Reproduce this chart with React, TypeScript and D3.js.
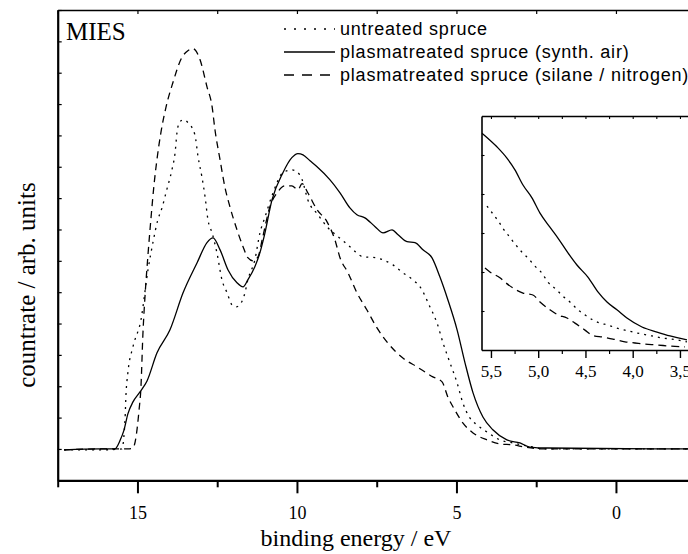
import React, { useEffect, useRef } from "react";
import * as d3 from "d3";

// MIES spectra: [binding energy / eV, countrate / arb. units]
const untreated: [number, number][] = [
  [17.3, -0.3], [16.2, -0.3], [15.49, 0], [15.39, 9.3], [15.36, 17.2], [15.3, 24.3],
  [15.14, 32.6], [14.89, 41.2], [14.67, 57.1], [14.51, 66.1], [14.36, 73.1], [14.23, 76.9],
  [14.08, 82.7], [13.92, 89.0], [13.82, 94.5], [13.76, 100.9], [13.67, 104.4], [13.54, 105.0],
  [13.42, 104.1], [13.2, 100.2], [13.1, 93.2], [12.98, 86.8], [12.88, 80.4], [12.79, 73.1],
  [12.66, 68.9], [12.51, 62.6], [12.35, 53.9], [12.19, 49.8], [12.04, 46.0], [11.91, 45.3],
  [11.79, 46.0], [11.63, 49.8], [11.54, 53.9], [11.32, 60.3], [11.16, 68.9], [11.0, 74.0],
  [10.75, 81.7], [10.44, 88.1], [10.16, 89.0], [10.0, 88.4], [9.84, 85.9], [9.66, 79.5],
  [9.34, 74.7], [9.06, 70.9], [8.59, 66.7], [8.34, 64.5], [7.93, 61.3], [7.55, 61.0],
  [7.3, 60.3], [6.99, 58.7], [6.68, 56.2], [6.36, 53.9], [6.14, 51.7], [5.83, 45.3],
  [5.61, 40.2], [5.42, 33.8], [5.2, 27.4], [4.98, 21.1], [4.8, 14.7], [4.58, 9.9],
  [4.36, 7.7], [4.04, 5.4], [3.64, 2.9], [3.23, 1.9], [2.79, 1.0], [2.23, 0], [-2.3, 0],
];

const synthAir: [number, number][] = [
  [17.3, -0.3], [16.18, 0], [15.71, 0], [15.55, 2.6], [15.42, 6.1], [15.3, 11.2],
  [15.14, 15.0], [14.92, 18.2], [14.7, 21.7], [14.39, 30.6], [13.98, 38.0], [13.57, 49.8],
  [13.13, 59.4], [12.82, 65.8], [12.63, 67.3], [12.41, 63.5], [12.16, 57.1], [11.88, 53.0],
  [11.69, 51.7], [11.54, 53.9], [11.32, 58.1], [11.16, 62.6], [11.03, 67.7], [10.78, 79.5],
  [10.44, 88.1], [10.16, 92.9], [9.97, 94.2], [9.81, 93.8], [9.59, 91.9], [9.37, 90.0],
  [8.97, 85.9], [8.65, 81.7], [8.34, 76.9], [8.12, 74.7], [7.87, 73.7], [7.55, 70.9],
  [7.3, 68.9], [7.02, 69.9], [6.83, 68.3], [6.55, 66.1], [6.3, 65.8], [6.05, 63.5],
  [5.77, 61.0], [5.52, 54.9], [5.27, 47.6], [4.98, 38.0], [4.73, 27.4], [4.48, 17.9],
  [4.17, 10.2], [3.86, 6.1], [3.42, 2.9], [3.01, 1.9], [2.7, 0.6], [2.16, 0.3], [-2.3, 0],
];

const silaneN2: [number, number][] = [
  [17.3, -0.3], [16.18, 0], [15.3, 0], [15.14, 0.3], [15.05, 3.5], [14.95, 12.4],
  [14.89, 19.8], [14.83, 36.4], [14.76, 49.2], [14.67, 61.9], [14.58, 73.1], [14.48, 84.3],
  [14.39, 92.2], [14.26, 101.2], [14.11, 108.8], [13.89, 116.8], [13.61, 124.8], [13.42, 127.0],
  [13.26, 127.7], [13.04, 124.2], [12.82, 115.5], [12.66, 109.2], [12.57, 101.8], [12.41, 92.2],
  [12.26, 83.6], [12.1, 77.2], [11.88, 69.9], [11.69, 64.5], [11.54, 61.0], [11.38, 60.0],
  [11.22, 61.3], [11.07, 67.7], [10.85, 77.2], [10.6, 82.0], [10.38, 83.9], [10.16, 83.9],
  [9.97, 82.7], [9.84, 84.6], [9.66, 81.7], [9.37, 76.3], [9.06, 72.5], [8.81, 66.7],
  [8.65, 61.0], [8.4, 56.2], [8.12, 49.8], [7.81, 44.4], [7.49, 38.6], [7.15, 33.8],
  [6.68, 29.0], [6.24, 26.2], [5.74, 23.0], [5.45, 21.4], [5.27, 16.6], [5.05, 12.4],
  [4.8, 8.3], [4.48, 5.1], [4.04, 2.9], [3.64, 1.6], [3.23, 1.3], [2.85, 0.6], [2.23, 0], [-2.3, 0],
];

// inset: close-up of the low binding energy edge
const insetUntreated: [number, number][] = [
  [5.542, 3.69], [5.479, 3.49], [5.415, 3.28], [5.362, 3.08], [5.31, 2.92], [5.246, 2.72],
  [5.172, 2.51], [5.098, 2.33], [5.034, 2.15], [4.96, 1.97], [4.897, 1.74], [4.812, 1.56],
  [4.738, 1.38], [4.664, 1.23], [4.579, 1.03], [4.505, 0.9], [4.421, 0.77], [4.347, 0.69],
  [4.262, 0.64], [4.167, 0.56], [4.082, 0.51], [3.997, 0.46], [3.902, 0.41], [3.796, 0.36],
  [3.69, 0.31], [3.585, 0.28], [3.426, 0.21],
];

const insetSynthAir: [number, number][] = [
  [5.595, 5.56], [5.437, 5.21], [5.331, 4.92], [5.246, 4.62], [5.161, 4.23], [5.066, 3.9],
  [4.981, 3.51], [4.876, 3.15], [4.791, 2.87], [4.685, 2.49], [4.59, 2.18], [4.474, 1.87],
  [4.368, 1.49], [4.272, 1.23], [4.167, 1.03], [4.061, 0.82], [3.902, 0.59], [3.743, 0.46],
  [3.606, 0.36], [3.426, 0.26],
];

const insetSilaneN2: [number, number][] = [
  [5.563, 2.1], [5.511, 2.0], [5.405, 1.85], [5.352, 1.74], [5.267, 1.59], [5.161, 1.46],
  [5.056, 1.41], [4.981, 1.23], [4.876, 1.03], [4.791, 0.9], [4.696, 0.82], [4.611, 0.69],
  [4.505, 0.51], [4.431, 0.38], [4.315, 0.33], [4.209, 0.28], [4.082, 0.21], [3.976, 0.18],
  [3.87, 0.15], [3.743, 0.13], [3.606, 0.1], [3.447, 0.08],
];

const seriesNames = [
  "untreated spruce",
  "plasmatreated spruce (synth. air)",
  "plasmatreated spruce (silane / nitrogen)",
];

const xMajorTicks = [15, 10, 5, 0];
const xMinorTicks = [17.5, 12.5, 7.5, 2.5, -2.5];
const yTicks = [-10, 0, 10, 20, 30, 40, 50, 60, 70, 80, 90, 100, 110, 120, 130, 140];
const insetMajorTicks = [5.5, 5.0, 4.5, 4.0, 3.5];
const insetMinorTicks = [5.25, 4.75, 4.25, 3.75];
const insetYTicks = [1, 2, 3, 4, 5];

const serif = "'Liberation Serif', 'Times New Roman', serif";
const sans = "'Liberation Sans', Arial, sans-serif";

function App() {
  const ref = useRef<SVGSVGElement>(null);

  useEffect(() => {
    drawChart(ref.current);
  }, []);

  return (
    <svg
      ref={ref}
      width={688}
      height={554}
      style={{ position: "absolute", left: 0, top: 0, background: "#fff" }}
    />
  );
}

function drawChart(el: SVGSVGElement | null) {
  if (!el) return;
  const svg = d3.select(el);
  svg.selectAll("*").remove();

  const frame = { left: 57.7, top: 10, bottom: 480.3, right: 695.7 };

  const x = d3.scaleLinear().domain([17.5, -2.5]).range([frame.left, frame.right]);
  const y = d3.scaleLinear().domain([-10, 140]).range([frame.bottom, frame.top]);

  // dotted, solid, dashed
  const dashes = ["2,5", null, "7,5"];
  const legendDashes = ["2,8", null, "10,8"];

  svg.append("rect").attr("width", 688).attr("height", 554).attr("fill", "#fff");

  // clip for the curves
  const defs = svg.append("defs");
  defs.append("clipPath").attr("id", "plot-clip")
    .append("rect")
    .attr("x", frame.left).attr("y", frame.top)
    .attr("width", frame.right - frame.left).attr("height", frame.bottom - frame.top);

  const line = d3.line<[number, number]>()
    .x(d => x(d[0]))
    .y(d => y(d[1]))
    .curve(d3.curveMonotoneX);

  const curves = svg.append("g").attr("clip-path", "url(#plot-clip)");
  [untreated, synthAir, silaneN2].forEach((data, i) => {
    curves.append("path")
      .attr("d", line(data))
      .attr("fill", "none")
      .attr("stroke", "#000")
      .attr("stroke-width", 1.3)
      .attr("stroke-dasharray", dashes[i]);
  });

  // bottom axis
  const xAxisMajor = d3.axisBottom(x)
    .tickValues(xMajorTicks)
    .tickSize(13)
    .tickSizeOuter(0)
    .tickPadding(13)
    .tickFormat(d3.format("d"));

  svg.append("g")
    .attr("transform", `translate(0,${frame.bottom})`)
    .call(xAxisMajor)
    .attr("font-size", 18)
    .attr("font-family", serif)
    .call(g => g.select(".domain").attr("stroke-width", 2.2))
    .call(g => g.selectAll(".tick line").attr("stroke-width", 2));

  svg.append("g")
    .attr("transform", `translate(0,${frame.bottom})`)
    .call(d3.axisBottom(x).tickValues(xMinorTicks).tickSize(7).tickSizeOuter(0).tickFormat(() => ""))
    .call(g => g.select(".domain").remove())
    .call(g => g.selectAll(".tick line").attr("stroke-width", 2));

  // top border with inward ticks
  svg.append("g")
    .attr("transform", `translate(0,${frame.top})`)
    .call(d3.axisBottom(x).tickValues(xMajorTicks.concat(xMinorTicks)).tickSize(4).tickSizeOuter(0).tickFormat(() => ""))
    .call(g => g.select(".domain").attr("stroke-width", 1.6))
    .call(g => g.selectAll(".tick line").attr("stroke-width", 1.2));

  // left border with inward ticks
  svg.append("g")
    .attr("transform", `translate(${frame.left},0)`)
    .call(d3.axisRight(y).tickValues(yTicks).tickSize(4).tickSizeOuter(0).tickFormat(() => ""))
    .call(g => g.select(".domain").attr("stroke-width", 2.2))
    .call(g => g.selectAll(".tick line").attr("stroke-width", 1.2));

  // axis titles
  svg.append("text")
    .attr("x", 356)
    .attr("y", 546)
    .attr("text-anchor", "middle")
    .attr("font-family", serif)
    .attr("font-size", 24)
    .text("binding energy / eV");

  svg.append("text")
    .attr("transform", "translate(35,285) rotate(-90)")
    .attr("text-anchor", "middle")
    .attr("font-family", serif)
    .attr("font-size", 25)
    .text("countrate / arb. units");

  svg.append("text")
    .attr("x", 66)
    .attr("y", 40)
    .attr("font-family", serif)
    .attr("font-size", 25)
    .text("MIES");

  // legend
  const legend = svg.append("g").attr("transform", "translate(284,29)");
  seriesNames.forEach((name, i) => {
    const row = legend.append("g").attr("transform", `translate(0,${i * 23})`);
    row.append("line")
      .attr("x1", 0).attr("x2", 51)
      .attr("stroke", "#000")
      .attr("stroke-width", 1.3)
      .attr("stroke-dasharray", legendDashes[i]);
    row.append("text")
      .attr("x", 56)
      .attr("dy", "0.35em")
      .attr("font-family", sans)
      .attr("font-size", 18)
      .attr("letter-spacing", 0.8)
      .text(name);
  });

  // inset
  const inset = { left: 481.5, top: 116, bottom: 350, right: 689.4 };
  const ix = d3.scaleLinear().domain([5.6, 3.4]).range([inset.left, inset.right]);
  const iy = d3.scaleLinear().domain([0, 6]).range([inset.bottom, inset.top]);

  svg.append("rect")
    .attr("x", inset.left).attr("y", inset.top)
    .attr("width", 700 - inset.left).attr("height", inset.bottom - inset.top)
    .attr("fill", "#fff");

  defs.append("clipPath").attr("id", "inset-clip")
    .append("rect")
    .attr("x", inset.left).attr("y", inset.top)
    .attr("width", 700 - inset.left).attr("height", inset.bottom - inset.top);

  const insetLine = d3.line<[number, number]>()
    .x(d => ix(d[0]))
    .y(d => iy(d[1]))
    .curve(d3.curveMonotoneX);

  const insetCurves = svg.append("g").attr("clip-path", "url(#inset-clip)");
  [insetUntreated, insetSynthAir, insetSilaneN2].forEach((data, i) => {
    insetCurves.append("path")
      .attr("d", insetLine(data))
      .attr("fill", "none")
      .attr("stroke", "#000")
      .attr("stroke-width", 1.3)
      .attr("stroke-dasharray", i === 2 ? "8,5" : dashes[i]);
  });

  const commaFormat = (d: d3.NumberValue) => d3.format(".1f")(d as number).replace(".", ",");

  svg.append("g")
    .attr("transform", `translate(0,${inset.bottom})`)
    .call(d3.axisBottom(ix).tickValues(insetMajorTicks).tickSize(8).tickSizeOuter(0).tickPadding(7).tickFormat(commaFormat))
    .attr("font-size", 17)
    .attr("font-family", serif)
    .call(g => g.select(".domain").attr("stroke-width", 1.6))
    .call(g => g.selectAll(".tick line").attr("stroke-width", 1.4));

  svg.append("g")
    .attr("transform", `translate(0,${inset.bottom})`)
    .call(d3.axisBottom(ix).tickValues(insetMinorTicks).tickSize(4).tickSizeOuter(0).tickFormat(() => ""))
    .call(g => g.select(".domain").remove())
    .call(g => g.selectAll(".tick line").attr("stroke-width", 1.2));

  svg.append("g")
    .attr("transform", `translate(0,${inset.top})`)
    .call(d3.axisBottom(ix).tickValues(insetMajorTicks.concat(insetMinorTicks)).tickSize(3).tickSizeOuter(0).tickFormat(() => ""))
    .call(g => g.select(".domain").attr("stroke-width", 1.4))
    .call(g => g.selectAll(".tick line").attr("stroke-width", 1.1));

  svg.append("g")
    .attr("transform", `translate(${inset.left},0)`)
    .call(d3.axisRight(iy).tickValues(insetYTicks).tickSize(3).tickSizeOuter(0).tickFormat(() => ""))
    .call(g => g.select(".domain").attr("stroke-width", 1.6))
    .call(g => g.selectAll(".tick line").attr("stroke-width", 1.1));
}

export default App;
